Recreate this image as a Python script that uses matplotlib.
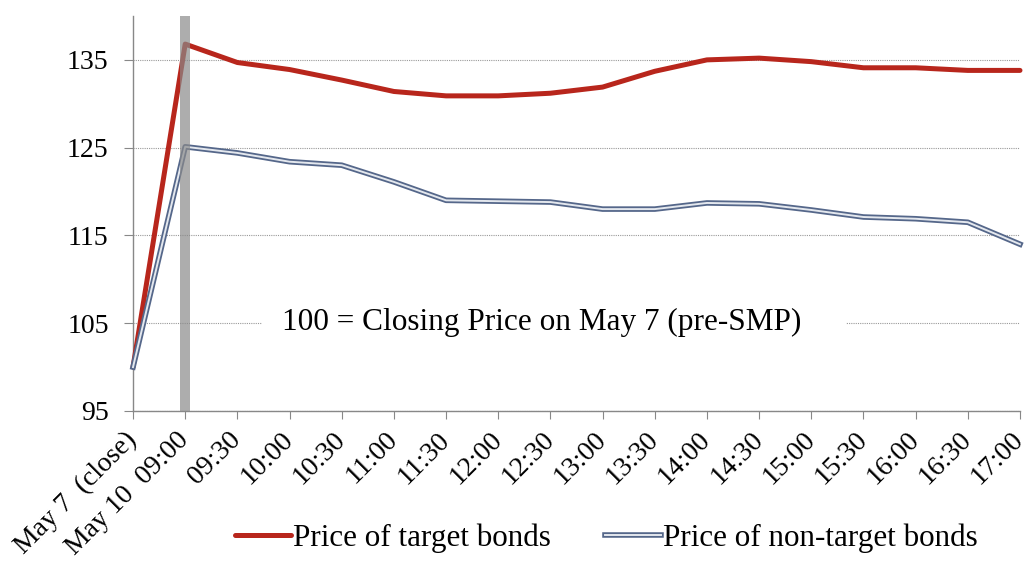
import matplotlib.pyplot as plt
import matplotlib.patheffects as pe
from matplotlib.patches import Rectangle

times = ['May 7  (close)', 'May 10  09:00', '09:30', '10:00', '10:30', '11:00',
         '11:30', '12:00', '12:30', '13:00', '13:30', '14:00', '14:30', '15:00',
         '15:30', '16:00', '16:30', '17:00']
target = [100.0, 136.8, 134.7, 133.9, 132.7, 131.4, 130.9, 130.9, 131.2, 131.9,
          133.7, 135.0, 135.2, 134.8, 134.1, 134.1, 133.8, 133.8]
non_target = [100.0, 125.1, 124.4, 123.4, 123.0, 121.1, 119.0, 118.9, 118.8, 118.0,
              118.0, 118.7, 118.6, 117.9, 117.1, 116.9, 116.5, 114.0]
yticks = [95, 105, 115, 125, 135]

plt.rcParams['font.family'] = ['Liberation Serif', 'DejaVu Serif']

fig = plt.figure(figsize=(10.28, 5.69), dpi=100)
ax = fig.add_axes([0.1294, 0.2777, 0.8628, 0.6942])

x = list(range(len(times)))
ax.plot(x, target, color='#b8261c', lw=3.6, solid_capstyle='round',
        label='Price of target bonds', zorder=3, clip_on=False)
ax.plot(x, non_target, color='#e4e8ee', lw=1.4, zorder=3, clip_on=False,
        label='Price of non-target bonds',
        path_effects=[pe.Stroke(linewidth=4.0, foreground='#55678a'), pe.Normal()])

# grey bar marking SMP announcement
ax.axvspan(0.9, 1.1, color='#8a8a8a', alpha=0.7, lw=0, zorder=4)

ax.set_xlim(0, len(times) - 1)
ax.set_ylim(95, 140)
ax.set_yticks(yticks)
ax.set_xticks(x)
ax.set_xticklabels(times, rotation=45, ha='right', va='center',
                   rotation_mode='anchor', fontsize=20)
ax.tick_params(axis='y', labelsize=20, length=6.5, color='#888888', pad=11)
ax.tick_params(axis='x', length=6, color='#888888', pad=12)

for s in ['top', 'right']:
    ax.spines[s].set_visible(False)
for s in ['left', 'bottom']:
    ax.spines[s].set_color('#888888')
    ax.spines[s].set_linewidth(1.0)

ax.yaxis.grid(True, linestyle=(0, (1, 1)), color='#999999', lw=0.8)
ax.set_axisbelow(True)

# white band hiding the gridline behind the note
ax.add_patch(Rectangle((2.47, 103.6), 11.2, 2.8, facecolor='white',
                       edgecolor='none', zorder=2))
ax.text(7.84, 105.1, '100 = Closing Price on May 7 (pre-SMP)', fontsize=22.5,
        ha='center', va='center', zorder=5)

fig.legend(loc='center', bbox_to_anchor=(0.59, 0.054), ncol=2, frameon=False,
           fontsize=22.4, handlelength=1.8, handletextpad=0.05, columnspacing=1.75)

fig.savefig('out.png', dpi=100)
